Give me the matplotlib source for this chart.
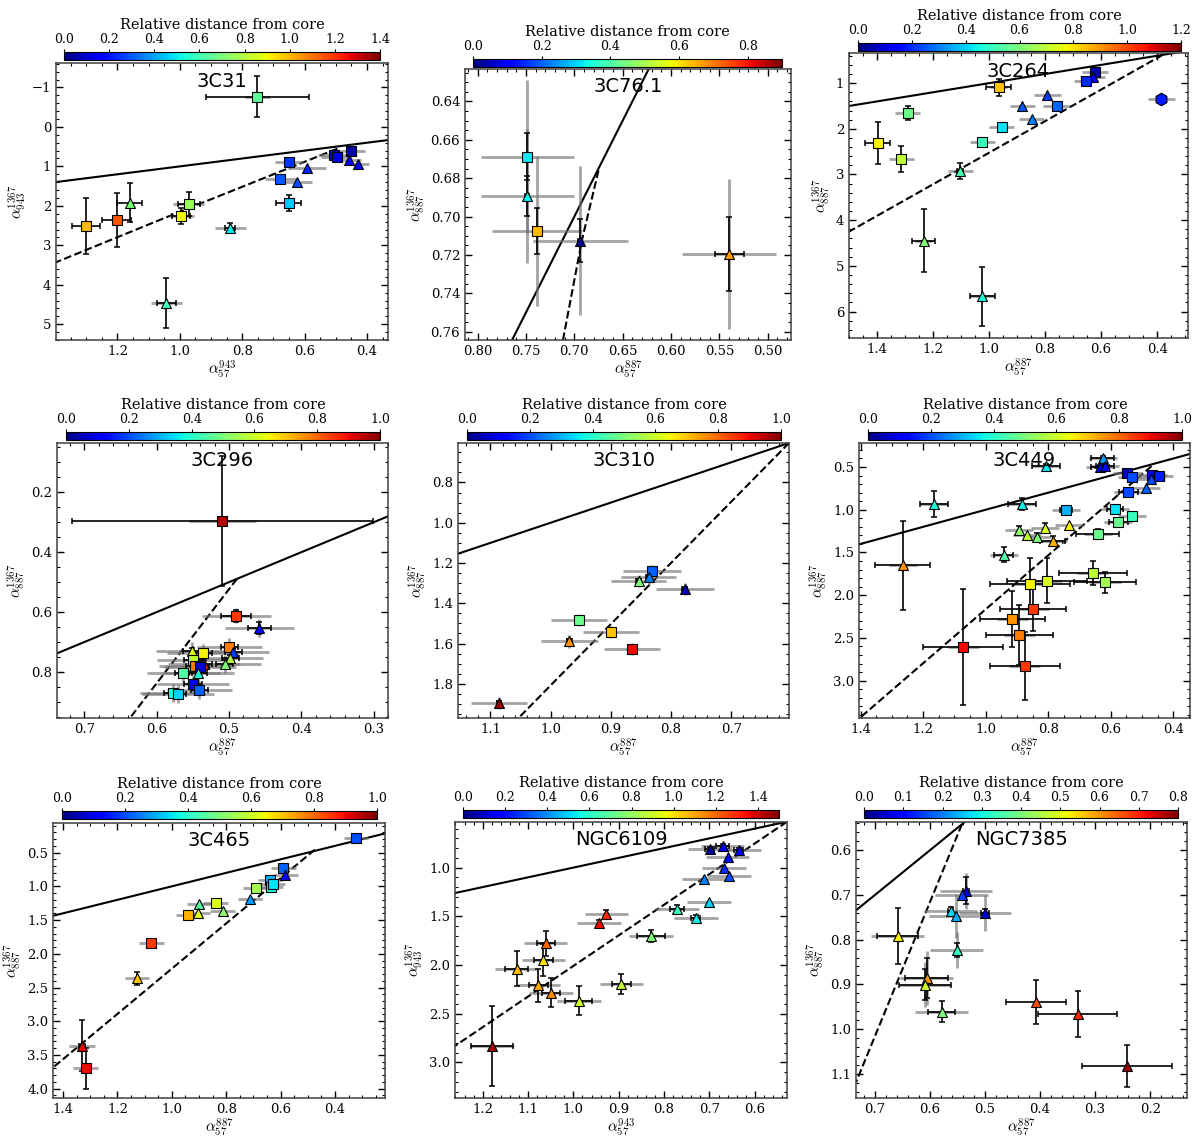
import matplotlib
matplotlib.use("Agg")
import matplotlib.pyplot as plt
import matplotlib as mpl
from matplotlib.ticker import AutoMinorLocator, MultipleLocator
import numpy as np

plt.rcParams['font.family'] = 'DejaVu Serif'
plt.rcParams['mathtext.fontset'] = 'cm'

# ---------------- data ----------------
# 3C31
c31_x = [0.752, 0.507, 0.497, 0.453, 0.459, 0.430, 0.592, 0.625, 0.651, 0.678, 0.651, 0.972, 0.996, 0.839, 1.160, 1.203, 1.300, 1.044]
c31_y = [-0.76, 0.72, 0.76, 0.61, 0.84, 0.93, 1.03, 1.39, 0.90, 1.33, 1.92, 1.96, 2.26, 2.55, 1.92, 2.36, 2.51, 4.46]
c31_d = [0.65, 0.08, 0.12, 0.05, 0.18, 0.15, 0.22, 0.28, 0.25, 0.30, 0.45, 0.75, 0.90, 0.50, 0.70, 1.15, 1.00, 0.60]
c31_m = "ssss^^^^sssss^^ss^"
c31_xe = [0.165, 0, 0, 0, 0, 0, 0, 0, 0, 0, 0.04, 0.035, 0.03, 0.015, 0.04, 0.045, 0.045, 0.03]
c31_ye = [0.52, 0, 0, 0, 0, 0, 0, 0, 0, 0, 0.2, 0.3, 0.2, 0.12, 0.5, 0.68, 0.71, 0.63]
c31_xg = [0.04, 0.05, 0.05, 0.045, 0.04, 0.035, 0.06, 0.05, 0.045, 0.05, 0, 0.05, 0.04, 0.05, 0, 0, 0, 0.05]
c31_yg = [0] * 18
c31_dash_x = [0.495, 1.0, 1.45]
c31_dash_y = [0.55, 2.15, 3.60]

# 3C76.1
c76_x = [0.7486, 0.7486, 0.7386, 0.6937, 0.540]
c76_y = [0.6687, 0.6892, 0.7075, 0.7125, 0.7195]
c76_d = [0.32, 0.33, 0.64, 0.02, 0.67]
c76_m = "s^s^^"
c76_xe = [0.002, 0.002, 0.002, 0.002, 0.015]
c76_ye = [0.012, 0.0105, 0.012, 0.011, 0.0193]
c76_xg = [0.048, 0.048, 0.047, 0.049, 0.0487]
c76_yg = [0.040, 0.035, 0.039, 0.039, 0.039]
c76_dash_x = [0.675, 0.692, 0.712]
c76_dash_y = [0.676, 0.712, 0.765]

# 3C264
c264_x = [0.622, 0.630, 0.654, 0.386, 0.966, 0.792, 0.881, 0.759, 0.848, 0.955, 1.024, 1.290, 1.398, 1.314, 1.103, 1.234, 1.024]
c264_y = [0.766, 0.87, 0.956, 1.34, 1.09, 1.27, 1.50, 1.51, 1.79, 1.96, 2.28, 1.66, 2.30, 2.66, 2.92, 4.45, 5.67]
c264_d = [0.05, 0.15, 0.20, 0.18, 0.84, 0.22, 0.25, 0.27, 0.30, 0.42, 0.50, 0.58, 0.78, 0.70, 0.52, 0.60, 0.45]
c264_m = "s^shs^^s^sssss^^^"
c264_xe = [0, 0, 0, 0, 0.044, 0, 0, 0, 0, 0, 0, 0, 0.044, 0, 0.01, 0.042, 0.044]
c264_ye = [0, 0, 0, 0, 0.19, 0, 0, 0, 0, 0, 0, 0.15, 0.46, 0.28, 0.18, 0.69, 0.65]
c264_xg = [0.048, 0.045, 0.042, 0.048, 0.03, 0.048, 0.045, 0.048, 0.045, 0.045, 0.045, 0.045, 0.02, 0.045, 0.045, 0.03, 0.045]
c264_yg = [0] * 17
c264_dash_x = [0.38, 1.52]
c264_dash_y = [0.38, 4.32]

# 3C296
c296_x = [0.509, 0.490, 0.458, 0.4995, 0.494, 0.536, 0.551, 0.550, 0.498, 0.506, 0.547, 0.535, 0.540, 0.563, 0.543, 0.550, 0.541, 0.578, 0.571]
c296_y = [0.297, 0.612, 0.653, 0.716, 0.734, 0.736, 0.731, 0.759, 0.754, 0.772, 0.781, 0.772, 0.783, 0.803, 0.803, 0.842, 0.862, 0.870, 0.873]
c296_d = [0.95, 0.85, 0.12, 0.78, 0.18, 0.65, 0.62, 0.58, 0.57, 0.50, 0.78, 0.88, 0.08, 0.45, 0.38, 0.12, 0.22, 0.38, 0.33]
c296_m = "ss^s^s^s^^s^ss^ssss"
c296_xe = [0.208, 0.021, 0.016] + [0.012] * 16
c296_ye = [0.217, 0.02, 0.02] + [0.012] * 16
c296_xg = [0.046, 0.048, 0.048, 0.045, 0.05, 0.05, 0.05, 0.05, 0.045, 0.05, 0.05, 0.05, 0.05, 0.05, 0.05, 0.05, 0.045, 0.045, 0.05]
c296_yg = [0, 0.025] + [0.03] * 17
c296_dash_x = [0.489, 0.645]
c296_dash_y = [0.489, 0.979]

# 3C310
c310_x = [0.8317, 0.837, 0.854, 0.777, 0.953, 0.900, 0.969, 0.865, 1.086]
c310_y = [1.242, 1.272, 1.290, 1.328, 1.482, 1.543, 1.590, 1.628, 1.896]
c310_d = [0.22, 0.25, 0.50, 0.05, 0.48, 0.70, 0.75, 0.90, 0.98]
c310_m = "s^^^ss^s^"
c310_xe = [0.004] * 9
c310_ye = [0.01] * 9
c310_xg = [0.0476, 0.046, 0.045, 0.048, 0.047, 0.047, 0.047, 0.047, 0.047]
c310_yg = [0.03] * 9
c310_dash_x = [0.604, 1.06]
c310_dash_y = [0.604, 1.99]

# 3C449
c449_x = [0.626, 0.635, 0.619, 0.807, 0.547, 0.533, 0.467, 0.445, 0.471, 0.4875, 0.544, 1.166, 0.883, 0.743, 0.587, 0.533, 0.576,
          0.735, 0.811, 0.894, 0.867, 0.837, 0.786, 0.642, 0.942, 1.265, 0.658, 0.619, 0.859, 0.805, 0.848, 0.915, 0.893, 1.072, 0.875]
c449_y = [0.395, 0.50, 0.49, 0.485, 0.57, 0.617, 0.59, 0.60, 0.636, 0.746, 0.796, 0.929, 0.929, 1.007, 0.988, 1.077, 1.147,
          1.18, 1.21, 1.24, 1.30, 1.32, 1.37, 1.28, 1.526, 1.65, 1.74, 1.85, 1.865, 1.83, 2.158, 2.278, 2.47, 2.606, 2.83]
c449_d = [0.28, 0.10, 0.12, 0.35, 0.05, 0.20, 0.10, 0.15, 0.20, 0.22, 0.20, 0.38, 0.36, 0.30, 0.35, 0.42, 0.48,
          0.65, 0.62, 0.52, 0.58, 0.50, 0.72, 0.48, 0.45, 0.75, 0.58, 0.55, 0.65, 0.62, 0.85, 0.75, 0.78, 0.90, 0.85]
c449_m = "^^^^ssss^^s^^ssss^^^^^^s^^sssssssss"
c449_xe = [0.036, 0.03, 0.03, 0.045, 0, 0, 0, 0, 0, 0, 0.03, 0.045, 0.045, 0.02, 0.025, 0, 0.03,
           0, 0, 0, 0, 0, 0.04, 0.068, 0.03, 0.088, 0.109, 0.099, 0.128, 0.128, 0.105, 0.104, 0.107, 0.128, 0.112]
c449_ye = [0.02, 0.02, 0.02, 0.02, 0, 0, 0, 0, 0, 0, 0.03, 0.152, 0.07, 0, 0, 0, 0,
           0, 0.05, 0.05, 0, 0.05, 0.06, 0.06, 0.085, 0.52, 0.14, 0.12, 0.30, 0.26, 0.26, 0.33, 0.35, 0.68, 0.40]
c449_xg = [0.045] * 26 + [0.05] * 9
c449_yg = [0] * 35
c449_dash_x = [0.47, 1.41]
c449_dash_y = [0.49, 3.46]

# 3C465
c465_x = [0.323, 0.590, 0.582, 0.639, 0.637, 0.629, 0.692, 0.713, 0.899, 0.839, 0.903, 0.813, 0.940, 1.075, 1.128, 1.330, 1.317]
c465_y = [0.283, 0.722, 0.835, 0.909, 1.008, 0.958, 1.022, 1.190, 1.269, 1.244, 1.392, 1.362, 1.427, 1.836, 2.363, 3.363, 3.700]
c465_d = [0.20, 0.22, 0.10, 0.30, 0.38, 0.35, 0.55, 0.28, 0.45, 0.62, 0.62, 0.52, 0.72, 0.85, 0.70, 0.90, 0.90]
c465_m = "ss^ssss^^s^^ss^^s"
c465_xe = [0] * 14 + [0, 0.01, 0.01]
c465_ye = [0] * 14 + [0.1, 0.38, 0.31]
c465_xg = [0.043, 0.045, 0.045, 0.045, 0.045, 0.045, 0.045, 0.045, 0.045, 0.045, 0.045, 0.045, 0.045, 0.045, 0.045, 0.049, 0.045]
c465_yg = [0] * 17
c465_dash_x = [0.474, 1.45]
c465_dash_y = [0.456, 3.73]

# NGC6109
n6109_x = [0.699, 0.671, 0.635, 0.660, 0.668, 0.657, 0.712, 0.701, 0.771, 0.730, 0.829, 0.927, 0.944, 1.061, 1.066, 1.125, 1.077, 1.049, 0.988, 0.894, 1.180]
n6109_y = [0.805, 0.782, 0.816, 0.891, 1.003, 1.089, 1.120, 1.352, 1.427, 1.515, 1.700, 1.480, 1.573, 1.778, 1.949, 2.040, 2.210, 2.283, 2.365, 2.195, 2.829]
n6109_d = [0.05, 0.15, 0.18, 0.20, 0.25, 0.30, 0.38, 0.50, 0.62, 0.55, 0.75, 1.30, 1.35, 1.20, 1.00, 1.07, 1.10, 1.15, 0.90, 0.88, 1.45]
n6109_m = "^" * 21
n6109_xe = [0.01, 0.015, 0.01, 0, 0, 0, 0, 0, 0.015, 0.01, 0.03, 0, 0, 0.02, 0.02, 0.025, 0.02, 0.02, 0.03, 0.02, 0.046]
n6109_ye = [0.02, 0.02, 0.02, 0, 0, 0, 0, 0, 0.04, 0.03, 0.06, 0.04, 0.04, 0.13, 0.16, 0.18, 0.17, 0.15, 0.15, 0.10, 0.41]
n6109_xg = [0.048] * 21
n6109_yg = [0] * 21
n6109_dash_x = [0.529, 1.261]
n6109_dash_y = [0.529, 2.83]

# NGC7385
n7385_x = [0.5345, 0.5424, 0.500, 0.5624, 0.5533, 0.5515, 0.659, 0.606, 0.609, 0.579, 0.4073, 0.3315, 0.2424]
n7385_y = [0.691, 0.700, 0.741, 0.736, 0.747, 0.823, 0.792, 0.886, 0.901, 0.961, 0.9385, 0.966, 1.082]
n7385_d = [0.06, 0.15, 0.06, 0.27, 0.24, 0.33, 0.52, 0.60, 0.48, 0.40, 0.66, 0.70, 0.78]
n7385_m = "^" * 13
n7385_xe = [0.005, 0, 0.008, 0.005, 0, 0, 0.037, 0.039, 0.048, 0.024, 0.055, 0.072, 0.082]
n7385_ye = [0.03, 0, 0.01, 0.01, 0, 0.015, 0.063, 0.045, 0.035, 0.024, 0.049, 0.052, 0.047]
n7385_xg = [0.048, 0.048, 0.048, 0.048, 0.048, 0.048, 0.048, 0.048, 0.048, 0.048, 0, 0, 0]
n7385_yg = [0.04, 0, 0.04, 0, 0.05, 0.04, 0, 0.06, 0.05, 0, 0, 0, 0]
n7385_dash_x = [0.542, 0.7345]
n7385_dash_y = [0.542, 1.119]

# ---------------- drawing ----------------
W, H = 1200, 1145
fig = plt.figure(figsize=(W / 100, H / 100), dpi=100)
cmap = plt.get_cmap('jet')


def add_px(l, t, r, b):
    return fig.add_axes([l / W, 1 - b / H, (r - l) / W, (b - t) / H])


def panel(ax_box, cb_box, name, x, y, d, m, xe, ye, xg, yg, dx, dy,
          vmax, cbstep, xlim, ylim, xmaj, ymaj, xlab, ylab):
    ax = add_px(*ax_box)
    norm = mpl.colors.Normalize(0, vmax)
    ax.set_xlim(*xlim)
    ax.set_ylim(*ylim)
    ax.plot([-10, 10], [-10, 10], color='k', lw=1.5, zorder=2, scalex=False, scaley=False)
    ax.plot(dx, dy, color='k', ls='--', lw=1.5, zorder=2, scalex=False, scaley=False)
    for i in range(len(x)):
        if xg[i] or yg[i]:
            ax.errorbar(x[i], y[i], xerr=xg[i] if xg[i] else None, yerr=yg[i] if yg[i] else None,
                        fmt='none', ecolor='0.45', elinewidth=2, alpha=0.65, capsize=0, zorder=3)
        if xe[i] or ye[i]:
            ax.errorbar(x[i], y[i], xerr=xe[i] if xe[i] else None, yerr=ye[i] if ye[i] else None,
                        fmt='none', ecolor='k', elinewidth=1.2, capsize=2.5, capthick=1.1, zorder=4)
        mk = m[i]
        ms = {'s': 7, '^': 7, 'h': 9}[mk]
        ax.plot(x[i], y[i], marker=mk, ms=ms, mfc=cmap(norm(d[i])), mec='k', mew=0.8,
                ls='none', zorder=5)
    ax.xaxis.set_major_locator(MultipleLocator(xmaj))
    ax.yaxis.set_major_locator(MultipleLocator(ymaj))
    ax.xaxis.set_minor_locator(AutoMinorLocator())
    ax.yaxis.set_minor_locator(AutoMinorLocator())
    ax.tick_params(which='both', direction='in', top=True, right=True, labelsize=9.5)
    ax.tick_params(which='major', length=5, width=1)
    ax.tick_params(which='minor', length=2.5, width=0.8)
    for s in ax.spines.values():
        s.set_linewidth(1.1)
        s.set_color('0.25')
    ax.set_xlabel(xlab, fontsize=11, labelpad=1)
    ax.set_ylabel(ylab, fontsize=11, labelpad=2)
    ax.text(0.5, 0.935, name, transform=ax.transAxes, ha='center', va='center',
            fontsize=14, family='DejaVu Sans', zorder=6)

    cax = add_px(*cb_box)
    ticks = np.arange(0, vmax + 1e-9, cbstep)
    cb = mpl.colorbar.ColorbarBase(cax, cmap=cmap, norm=norm, orientation='horizontal', ticks=ticks)
    cax.xaxis.set_ticks_position('top')
    cax.xaxis.set_label_position('top')
    cax.tick_params(labelsize=9, length=2, pad=2)
    cb.set_label('Relative distance from core', fontsize=10.5, labelpad=3)
    cb.outline.set_linewidth(0.8)
    return ax


lx887 = r'$\alpha_{57}^{887}$'
lx943 = r'$\alpha_{57}^{943}$'
ly887 = r'$\alpha_{887}^{1367}$'
ly943 = r'$\alpha_{943}^{1367}$'

panel((56, 63, 388, 340), (64, 52, 380, 60), '3C31',
      c31_x, c31_y, c31_d, c31_m, c31_xe, c31_ye, c31_xg, c31_yg, c31_dash_x, c31_dash_y,
      1.4, 0.2, (1.397, 0.333), (5.40, -1.62), 0.2, 1, lx943, ly943)
panel((465, 69, 791, 340), (473, 59, 782, 67), '3C76.1',
      c76_x, c76_y, c76_d, c76_m, c76_xe, c76_ye, c76_xg, c76_yg, c76_dash_x, c76_dash_y,
      0.9, 0.2, (0.813, 0.476), (0.7643, 0.6231), 0.05, 0.02, lx887, ly887)
panel((849, 53, 1188, 338), (858, 43, 1181, 51), '3C264',
      c264_x, c264_y, c264_d, c264_m, c264_xe, c264_ye, c264_xg, c264_yg, c264_dash_x, c264_dash_y,
      1.2, 0.2, (1.50, 0.29), (6.58, 0.34), 0.2, 1, lx887, ly887)
panel((57, 443, 388, 718), (66, 432, 380, 440), '3C296',
      c296_x, c296_y, c296_d, c296_m, c296_xe, c296_ye, c296_xg, c296_yg, c296_dash_x, c296_dash_y,
      1.0, 0.2, (0.738, 0.280), (0.954, 0.035), 0.1, 0.2, lx887, ly887)
panel((458, 443, 789, 718), (467, 432, 781, 440), '3C310',
      c310_x, c310_y, c310_d, c310_m, c310_xe, c310_ye, c310_xg, c310_yg, c310_dash_x, c310_dash_y,
      1.0, 0.2, (1.154, 0.604), (1.97, 0.604), 0.1, 0.2, lx887, ly887)
panel((859, 443, 1190, 718), (868, 432, 1182, 440), '3C449',
      c449_x, c449_y, c449_d, c449_m, c449_xe, c449_ye, c449_xg, c449_yg, c449_dash_x, c449_dash_y,
      1.0, 0.2, (1.405, 0.347), (3.437, 0.219), 0.2, 0.5, lx887, ly887)
panel((53, 823, 385, 1098), (62, 811, 377, 819), '3C465',
      c465_x, c465_y, c465_d, c465_m, c465_xe, c465_ye, c465_xg, c465_yg, c465_dash_x, c465_dash_y,
      1.0, 0.2, (1.437, 0.216), (4.138, 0.061), 0.2, 0.5, lx887, ly887)
panel((455, 822, 787, 1098), (463, 810, 779, 818), 'NGC6109',
      n6109_x, n6109_y, n6109_d, n6109_m, n6109_xe, n6109_ye, n6109_xg, n6109_yg, n6109_dash_x, n6109_dash_y,
      1.5, 0.2, (1.261, 0.529), (3.365, 0.532), 0.1, 0.5, lx943, ly943)
panel((856, 822, 1187, 1098), (864, 810, 1178, 818), 'NGC7385',
      n7385_x, n7385_y, n7385_d, n7385_m, n7385_xe, n7385_ye, n7385_xg, n7385_yg, n7385_dash_x, n7385_dash_y,
      0.8, 0.1, (0.7345, 0.133), (1.154, 0.537), 0.1, 0.1, lx887, ly887)

fig.savefig('out.png', dpi=100)
